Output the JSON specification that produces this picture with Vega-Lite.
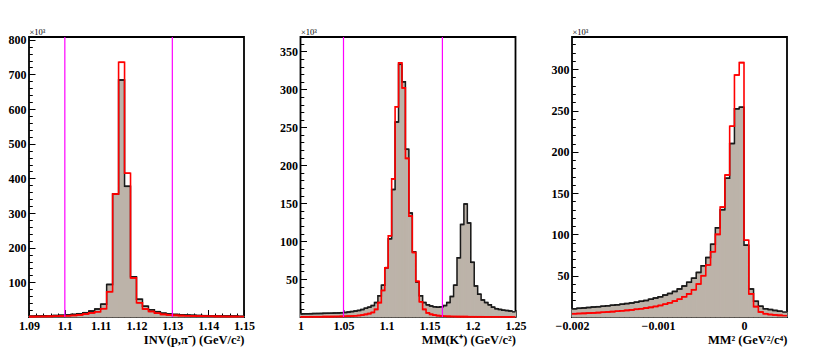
{
  "$schema": "https://vega.github.io/schema/vega-lite/v6.json",
  "background": "white",
  "padding": {"left": 7, "top": 26, "right": 5, "bottom": 5},
  "spacing": 56.5,
  "bounds": "flush",
  "datasets": {
    "p1": [
      {"lo": 1.09, "hi": 1.091667, "all": 2.5, "sel": 1.2},
      {"lo": 1.091667, "hi": 1.093333, "all": 2.8, "sel": 1.4},
      {"lo": 1.093333, "hi": 1.095, "all": 3.2, "sel": 1.6},
      {"lo": 1.095, "hi": 1.096667, "all": 3.6, "sel": 1.9},
      {"lo": 1.096667, "hi": 1.098333, "all": 4.2, "sel": 2.3},
      {"lo": 1.098333, "hi": 1.1, "all": 5, "sel": 2.8},
      {"lo": 1.1, "hi": 1.101667, "all": 6, "sel": 3.5},
      {"lo": 1.101667, "hi": 1.103333, "all": 7.5, "sel": 4.5},
      {"lo": 1.103333, "hi": 1.105, "all": 9.5, "sel": 6},
      {"lo": 1.105, "hi": 1.106667, "all": 12.5, "sel": 8.5},
      {"lo": 1.106667, "hi": 1.108333, "all": 17, "sel": 12},
      {"lo": 1.108333, "hi": 1.11, "all": 23, "sel": 15},
      {"lo": 1.11, "hi": 1.111667, "all": 37, "sel": 24},
      {"lo": 1.111667, "hi": 1.113333, "all": 94, "sel": 73},
      {"lo": 1.113333, "hi": 1.115, "all": 355, "sel": 355},
      {"lo": 1.115, "hi": 1.116667, "all": 684, "sel": 735},
      {"lo": 1.116667, "hi": 1.118333, "all": 377, "sel": 415},
      {"lo": 1.118333, "hi": 1.12, "all": 116, "sel": 113},
      {"lo": 1.12, "hi": 1.121667, "all": 51, "sel": 41},
      {"lo": 1.121667, "hi": 1.123333, "all": 31, "sel": 23},
      {"lo": 1.123333, "hi": 1.125, "all": 21, "sel": 16},
      {"lo": 1.125, "hi": 1.126667, "all": 15.5, "sel": 11},
      {"lo": 1.126667, "hi": 1.128333, "all": 11, "sel": 7.5},
      {"lo": 1.128333, "hi": 1.13, "all": 9, "sel": 6},
      {"lo": 1.13, "hi": 1.131667, "all": 7.5, "sel": 4.8},
      {"lo": 1.131667, "hi": 1.133333, "all": 6.3, "sel": 4},
      {"lo": 1.133333, "hi": 1.135, "all": 5.5, "sel": 3.4},
      {"lo": 1.135, "hi": 1.136667, "all": 4.8, "sel": 2.9},
      {"lo": 1.136667, "hi": 1.138333, "all": 4.3, "sel": 2.5},
      {"lo": 1.138333, "hi": 1.14, "all": 3.9, "sel": 2.2},
      {"lo": 1.14, "hi": 1.141667, "all": 3.5, "sel": 2},
      {"lo": 1.141667, "hi": 1.143333, "all": 3.2, "sel": 1.8},
      {"lo": 1.143333, "hi": 1.145, "all": 3, "sel": 1.6},
      {"lo": 1.145, "hi": 1.146667, "all": 2.8, "sel": 1.4},
      {"lo": 1.146667, "hi": 1.148333, "all": 2.6, "sel": 1.3},
      {"lo": 1.148333, "hi": 1.15, "all": 2.4, "sel": 1.2}
    ],
    "p2": [
      {"lo": 1.0, "hi": 1.002, "all": 4.1, "sel": 0.3},
      {"lo": 1.002, "hi": 1.006, "all": 4.2, "sel": 0.3},
      {"lo": 1.006, "hi": 1.01, "all": 4.3, "sel": 0.3},
      {"lo": 1.01, "hi": 1.014, "all": 4.4, "sel": 0.35},
      {"lo": 1.014, "hi": 1.018, "all": 4.5, "sel": 0.35},
      {"lo": 1.018, "hi": 1.022, "all": 4.6, "sel": 0.4},
      {"lo": 1.022, "hi": 1.026, "all": 4.7, "sel": 0.4},
      {"lo": 1.026, "hi": 1.03, "all": 4.8, "sel": 0.45},
      {"lo": 1.03, "hi": 1.034, "all": 4.9, "sel": 0.5},
      {"lo": 1.034, "hi": 1.038, "all": 5.0, "sel": 0.55},
      {"lo": 1.038, "hi": 1.042, "all": 5.2, "sel": 0.6},
      {"lo": 1.042, "hi": 1.046, "all": 5.4, "sel": 0.7},
      {"lo": 1.046, "hi": 1.05, "all": 5.7, "sel": 0.8},
      {"lo": 1.05, "hi": 1.054, "all": 6.0, "sel": 0.9},
      {"lo": 1.054, "hi": 1.058, "all": 6.5, "sel": 1.1},
      {"lo": 1.058, "hi": 1.062, "all": 7.1, "sel": 1.3},
      {"lo": 1.062, "hi": 1.066, "all": 7.8, "sel": 1.6},
      {"lo": 1.066, "hi": 1.07, "all": 8.7, "sel": 2},
      {"lo": 1.07, "hi": 1.074, "all": 9.8, "sel": 2.6},
      {"lo": 1.074, "hi": 1.078, "all": 11.5, "sel": 3.4},
      {"lo": 1.078, "hi": 1.082, "all": 13, "sel": 4.5},
      {"lo": 1.082, "hi": 1.086, "all": 15, "sel": 6},
      {"lo": 1.086, "hi": 1.09, "all": 19, "sel": 10},
      {"lo": 1.09, "hi": 1.094, "all": 28, "sel": 19},
      {"lo": 1.094, "hi": 1.098, "all": 42, "sel": 35},
      {"lo": 1.098, "hi": 1.102, "all": 65, "sel": 65},
      {"lo": 1.102, "hi": 1.106, "all": 103, "sel": 107},
      {"lo": 1.106, "hi": 1.11, "all": 168, "sel": 182},
      {"lo": 1.11, "hi": 1.114, "all": 257, "sel": 277},
      {"lo": 1.114, "hi": 1.118, "all": 333, "sel": 335},
      {"lo": 1.118, "hi": 1.122, "all": 310, "sel": 302},
      {"lo": 1.122, "hi": 1.126, "all": 221, "sel": 209},
      {"lo": 1.126, "hi": 1.13, "all": 137, "sel": 133},
      {"lo": 1.13, "hi": 1.134, "all": 86, "sel": 85},
      {"lo": 1.134, "hi": 1.138, "all": 46, "sel": 47},
      {"lo": 1.138, "hi": 1.142, "all": 28, "sel": 20},
      {"lo": 1.142, "hi": 1.146, "all": 19, "sel": 10},
      {"lo": 1.146, "hi": 1.15, "all": 16, "sel": 5.5},
      {"lo": 1.15, "hi": 1.154, "all": 14.5, "sel": 3.5},
      {"lo": 1.154, "hi": 1.158, "all": 13.5, "sel": 2.5},
      {"lo": 1.158, "hi": 1.162, "all": 13, "sel": 1.8},
      {"lo": 1.162, "hi": 1.166, "all": 13.5, "sel": 1.3},
      {"lo": 1.166, "hi": 1.17, "all": 15, "sel": 1.0},
      {"lo": 1.17, "hi": 1.174, "all": 19, "sel": 0.8},
      {"lo": 1.174, "hi": 1.178, "all": 27, "sel": 0.7},
      {"lo": 1.178, "hi": 1.182, "all": 42, "sel": 0.6},
      {"lo": 1.182, "hi": 1.186, "all": 78, "sel": 0.55},
      {"lo": 1.186, "hi": 1.19, "all": 122, "sel": 0.5},
      {"lo": 1.19, "hi": 1.194, "all": 149, "sel": 0.45},
      {"lo": 1.194, "hi": 1.198, "all": 124, "sel": 0.42},
      {"lo": 1.198, "hi": 1.202, "all": 72, "sel": 0.4},
      {"lo": 1.202, "hi": 1.206, "all": 41, "sel": 0.38},
      {"lo": 1.206, "hi": 1.21, "all": 30, "sel": 0.35},
      {"lo": 1.21, "hi": 1.214, "all": 22.5, "sel": 0.33},
      {"lo": 1.214, "hi": 1.218, "all": 19, "sel": 0.3},
      {"lo": 1.218, "hi": 1.222, "all": 16, "sel": 0.3},
      {"lo": 1.222, "hi": 1.226, "all": 13, "sel": 0.28},
      {"lo": 1.226, "hi": 1.23, "all": 11, "sel": 0.26},
      {"lo": 1.23, "hi": 1.234, "all": 10, "sel": 0.25},
      {"lo": 1.234, "hi": 1.238, "all": 9, "sel": 0.24},
      {"lo": 1.238, "hi": 1.242, "all": 8.5, "sel": 0.22},
      {"lo": 1.242, "hi": 1.246, "all": 8, "sel": 0.21},
      {"lo": 1.246, "hi": 1.25, "all": 6.8, "sel": 0.2}
    ],
    "p3": [
      {"lo": -0.002, "hi": -0.0019444, "all": 10, "sel": 4},
      {"lo": -0.0019444, "hi": -0.0018889, "all": 10.5, "sel": 4.2},
      {"lo": -0.0018889, "hi": -0.0018333, "all": 11, "sel": 4.4},
      {"lo": -0.0018333, "hi": -0.0017778, "all": 11.5, "sel": 4.7},
      {"lo": -0.0017778, "hi": -0.0017222, "all": 12, "sel": 5},
      {"lo": -0.0017222, "hi": -0.0016667, "all": 12.5, "sel": 5.3},
      {"lo": -0.0016667, "hi": -0.0016111, "all": 13, "sel": 5.7},
      {"lo": -0.0016111, "hi": -0.0015556, "all": 13.6, "sel": 6.1},
      {"lo": -0.0015556, "hi": -0.0015, "all": 14.2, "sel": 6.5},
      {"lo": -0.0015, "hi": -0.0014444, "all": 14.8, "sel": 7},
      {"lo": -0.0014444, "hi": -0.0013889, "all": 15.5, "sel": 7.5},
      {"lo": -0.0013889, "hi": -0.0013333, "all": 16.2, "sel": 8},
      {"lo": -0.0013333, "hi": -0.0012778, "all": 17, "sel": 8.6},
      {"lo": -0.0012778, "hi": -0.0012222, "all": 18, "sel": 9.3},
      {"lo": -0.0012222, "hi": -0.0011667, "all": 19, "sel": 10},
      {"lo": -0.0011667, "hi": -0.0011111, "all": 20, "sel": 10.8},
      {"lo": -0.0011111, "hi": -0.0010556, "all": 21.5, "sel": 11.7},
      {"lo": -0.0010556, "hi": -0.001, "all": 23, "sel": 12.8},
      {"lo": -0.001, "hi": -0.0009444, "all": 24.5, "sel": 14},
      {"lo": -0.0009444, "hi": -0.0008889, "all": 26.5, "sel": 15.5},
      {"lo": -0.0008889, "hi": -0.0008333, "all": 28.5, "sel": 17.2},
      {"lo": -0.0008333, "hi": -0.0007778, "all": 31, "sel": 19.2},
      {"lo": -0.0007778, "hi": -0.0007222, "all": 34, "sel": 21.5},
      {"lo": -0.0007222, "hi": -0.0006667, "all": 37.5, "sel": 24.5},
      {"lo": -0.0006667, "hi": -0.0006111, "all": 42, "sel": 28},
      {"lo": -0.0006111, "hi": -0.0005556, "all": 47, "sel": 33},
      {"lo": -0.0005556, "hi": -0.0005, "all": 54, "sel": 40},
      {"lo": -0.0005, "hi": -0.0004444, "all": 62, "sel": 50},
      {"lo": -0.0004444, "hi": -0.0003889, "all": 72, "sel": 63},
      {"lo": -0.0003889, "hi": -0.0003333, "all": 88, "sel": 79},
      {"lo": -0.0003333, "hi": -0.0002778, "all": 108, "sel": 100},
      {"lo": -0.0002778, "hi": -0.0002222, "all": 130, "sel": 133},
      {"lo": -0.0002222, "hi": -0.0001667, "all": 168, "sel": 172},
      {"lo": -0.0001667, "hi": -0.0001111, "all": 210, "sel": 231},
      {"lo": -0.0001111, "hi": -0.0000556, "all": 252, "sel": 293},
      {"lo": -0.0000556, "hi": 0, "all": 254, "sel": 308},
      {"lo": 0, "hi": 0.0000556, "all": 87, "sel": 93},
      {"lo": 0.0000556, "hi": 0.0001111, "all": 34, "sel": 28},
      {"lo": 0.0001111, "hi": 0.0001667, "all": 19, "sel": 12.6},
      {"lo": 0.0001667, "hi": 0.0002222, "all": 13, "sel": 6},
      {"lo": 0.0002222, "hi": 0.0002778, "all": 10, "sel": 4},
      {"lo": 0.0002778, "hi": 0.0003333, "all": 9, "sel": 3},
      {"lo": 0.0003333, "hi": 0.0003889, "all": 8, "sel": 2.5},
      {"lo": 0.0003889, "hi": 0.0004444, "all": 7, "sel": 2},
      {"lo": 0.0004444, "hi": 0.0005, "all": 6, "sel": 1.6}
    ],
    "c1": [{"cut": 1.1}, {"cut": 1.13}],
    "c2": [{"cut": 1.05}, {"cut": 1.165}]
  },
  "hconcat": [
    {
      "width": 215,
      "height": 280,
      "data": {"name": "p1"},
      "resolve": {"axis": {"y": "independent"}},
      "encoding": {
        "x": {
          "field": "lo", "type": "quantitative",
          "scale": {"domain": [1.09, 1.15], "nice": false, "zero": false},
          "axis": {
            "title": "INV(p,π⁻) (GeV/c²)",
            "titleX": 215, "titleY": 26, "labelOverlap": false,
            "values": [1.09,1.092,1.094,1.096,1.098,1.1,1.102,1.104,1.106,1.108,1.11,1.112,1.114,1.116,1.118,1.12,1.122,1.124,1.126,1.128,1.13,1.132,1.134,1.136,1.138,1.14,1.142,1.144,1.146,1.148,1.15],
            "labelExpr": "abs(round(datum.value*1000) % 10) == 0 ? format(datum.value, '.2~f') : ''",
            "tickSize": {"condition": {"test": "abs(round(datum.value*1000) % 10) == 0", "value": -7.5}, "value": -4}
          }
        }
      },
      "layer": [
        {
          "mark": {"type": "rect", "fill": "#bcb3a9", "stroke": "#bcb3a9", "strokeWidth": 1},
          "encoding": {
            "x2": {"field": "hi"},
            "y": {
              "field": "all", "type": "quantitative",
              "scale": {"domain": [0, 808], "nice": false, "zero": true},
              "axis": {"orient": "left", "title": "×10³", "labelOverlap": false, "values": [100,200,300,400,500,600,700,800], "tickSize": -6}
            },
            "y2": {"datum": 0}
          }
        },
        {
          "mark": {"type": "line", "interpolate": "step-after", "stroke": "#1a1a1a", "strokeWidth": 1.5},
          "encoding": {"y": {"field": "all", "type": "quantitative",
            "axis": {"orient": "left", "title": null, "labels": false, "tickSize": -3.3,
              "values": [20,40,60,80,120,140,160,180,220,240,260,280,320,340,360,380,420,440,460,480,520,540,560,580,620,640,660,680,720,740,760,780]}}}
        },
        {
          "mark": {"type": "rule", "stroke": "#1a1a1a", "strokeWidth": 1.5},
          "encoding": {"x2": {"field": "hi"}, "y": {"field": "all", "type": "quantitative", "axis": null}}
        },
        {
          "mark": {"type": "line", "interpolate": "step-after", "stroke": "#ff0000", "strokeWidth": 1.6},
          "encoding": {"y": {"field": "sel", "type": "quantitative", "axis": null}}
        },
        {
          "mark": {"type": "rule", "stroke": "#ff0000", "strokeWidth": 1.6},
          "encoding": {"x2": {"field": "hi"}, "y": {"field": "sel", "type": "quantitative", "axis": null}}
        },
        {
          "data": {"name": "c1"},
          "mark": {"type": "rule", "stroke": "#ff00ff", "strokeWidth": 1.2},
          "encoding": {"x": {"field": "cut", "type": "quantitative", "title": "INV(p,π⁻) (GeV/c²)"}}
        }
      ]
    },
    {
      "width": 215,
      "height": 280,
      "data": {"name": "p2"},
      "resolve": {"axis": {"y": "independent"}},
      "encoding": {
        "x": {
          "field": "lo", "type": "quantitative",
          "scale": {"domain": [1.0, 1.25], "nice": false, "zero": false},
          "axis": {
            "title": "MM(K⁺) (GeV/c²)",
            "titleX": 215, "titleY": 26, "labelOverlap": false,
            "values": [1,1.01,1.02,1.03,1.04,1.05,1.06,1.07,1.08,1.09,1.1,1.11,1.12,1.13,1.14,1.15,1.16,1.17,1.18,1.19,1.2,1.21,1.22,1.23,1.24,1.25],
            "labelExpr": "round(datum.value*100) % 5 == 0 ? format(datum.value, '.2~f') : ''",
            "tickSize": {"condition": {"test": "round(datum.value*100) % 5 == 0", "value": -7.5}, "value": -4}
          }
        }
      },
      "layer": [
        {
          "mark": {"type": "rect", "fill": "#bcb3a9", "stroke": "#bcb3a9", "strokeWidth": 1},
          "encoding": {
            "x2": {"field": "hi"},
            "y": {
              "field": "all", "type": "quantitative",
              "scale": {"domain": [0, 369], "nice": false, "zero": true},
              "axis": {"orient": "left", "title": "×10³", "labelOverlap": false, "values": [50,100,150,200,250,300,350], "tickSize": -6}
            },
            "y2": {"datum": 0}
          }
        },
        {
          "mark": {"type": "line", "interpolate": "step-after", "stroke": "#1a1a1a", "strokeWidth": 1.5},
          "encoding": {"y": {"field": "all", "type": "quantitative",
            "axis": {"orient": "left", "title": null, "labels": false, "tickSize": -3.3,
              "values": [10,20,30,40,60,70,80,90,110,120,130,140,160,170,180,190,210,220,230,240,260,270,280,290,310,320,330,340,360]}}}
        },
        {
          "mark": {"type": "rule", "stroke": "#1a1a1a", "strokeWidth": 1.5},
          "encoding": {"x2": {"field": "hi"}, "y": {"field": "all", "type": "quantitative", "axis": null}}
        },
        {
          "mark": {"type": "line", "interpolate": "step-after", "stroke": "#ff0000", "strokeWidth": 1.6},
          "encoding": {"y": {"field": "sel", "type": "quantitative", "axis": null}}
        },
        {
          "mark": {"type": "rule", "stroke": "#ff0000", "strokeWidth": 1.6},
          "encoding": {"x2": {"field": "hi"}, "y": {"field": "sel", "type": "quantitative", "axis": null}}
        },
        {
          "data": {"name": "c2"},
          "mark": {"type": "rule", "stroke": "#ff00ff", "strokeWidth": 1.2},
          "encoding": {"x": {"field": "cut", "type": "quantitative", "title": "MM(K⁺) (GeV/c²)"}}
        }
      ]
    },
    {
      "width": 215,
      "height": 280,
      "data": {"name": "p3"},
      "resolve": {"axis": {"y": "independent"}},
      "encoding": {
        "x": {
          "field": "lo", "type": "quantitative",
          "scale": {"domain": [-0.002, 0.0005], "nice": false, "zero": false},
          "axis": {
            "title": "MM² (GeV²/c⁴)",
            "titleX": 215, "titleY": 26, "labelOverlap": false,
            "values": [-0.002, -0.001, 0],
            "labelExpr": "format(datum.value, '.3~f')",
            "tickSize": -7.5
          }
        }
      },
      "layer": [
        {
          "mark": {"type": "rect", "fill": "#bcb3a9", "stroke": "#bcb3a9", "strokeWidth": 1},
          "encoding": {
            "x2": {"field": "hi"},
            "y": {
              "field": "all", "type": "quantitative",
              "scale": {"domain": [0, 339], "nice": false, "zero": true},
              "axis": {"orient": "left", "title": "×10³", "labelOverlap": false, "values": [50,100,150,200,250,300], "tickSize": -6}
            },
            "y2": {"datum": 0}
          }
        },
        {
          "mark": {"type": "line", "interpolate": "step-after", "stroke": "#1a1a1a", "strokeWidth": 1.5},
          "encoding": {"y": {"field": "all", "type": "quantitative",
            "axis": {"orient": "left", "title": null, "labels": false, "tickSize": -3.3,
              "values": [10,20,30,40,60,70,80,90,110,120,130,140,160,170,180,190,210,220,230,240,260,270,280,290,310,320,330]}}}
        },
        {
          "mark": {"type": "rule", "stroke": "#1a1a1a", "strokeWidth": 1.5},
          "encoding": {"x2": {"field": "hi"}, "y": {"field": "all", "type": "quantitative", "axis": null}}
        },
        {
          "mark": {"type": "line", "interpolate": "step-after", "stroke": "#ff0000", "strokeWidth": 1.6},
          "encoding": {"y": {"field": "sel", "type": "quantitative", "axis": null}}
        },
        {
          "mark": {"type": "rule", "stroke": "#ff0000", "strokeWidth": 1.6},
          "encoding": {"x2": {"field": "hi"}, "y": {"field": "sel", "type": "quantitative", "axis": null}}
        }
      ]
    }
  ],
  "config": {
    "view": {"stroke": "black", "strokeWidth": 1.8},
    "axis": {
      "domain": false, "grid": false,
      "labelFont": "Liberation Serif", "labelFontWeight": "bold", "labelFontSize": 12, "labelColor": "black",
      "titleFont": "Liberation Serif", "titleFontWeight": "bold", "titleFontSize": 12.5, "titleColor": "black",
      "tickColor": "black", "tickWidth": 1,
      "labelOverlap": false, "labelFlush": false, "labelBound": false, "zindex": 1
    },
    "axisX": {"labelPadding": 11, "titleAlign": "right", "titleBaseline": "alphabetic"},
    "axisY": {"labelPadding": 9, "titleAngle": 0, "titleAlign": "left", "titleBaseline": "alphabetic", "titleX": 0, "titleY": -3, "titleFontWeight": "normal", "titleFontSize": 8.5}
  }
}
